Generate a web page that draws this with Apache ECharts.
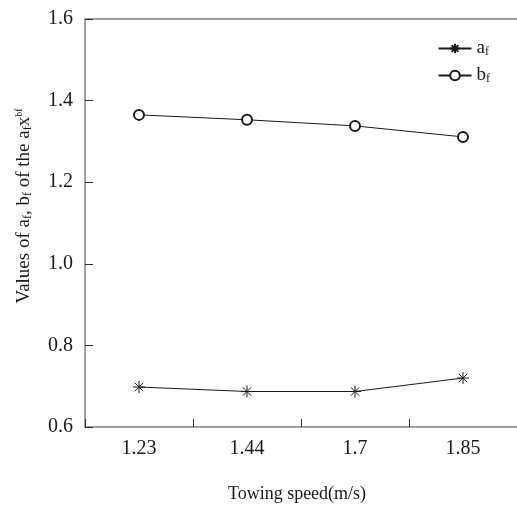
<!DOCTYPE html>
<html lang="en">
<head>
    <meta charset="UTF-8">
    <title>Towing speed</title>
    <script src="https://cdn.jsdelivr.net/npm/echarts@6/dist/echarts.min.js"></script>
    <style>
        html, body { margin: 0; padding: 0; background: #fff; }
        #main { width: 517px; height: 508px; }
    </style>
</head>
<body>
<div id="main"></div>
<script>
    var speeds = ['1.23', '1.44', '1.7', '1.85'];
    var afValues = [0.698, 0.687, 0.687, 0.720];
    var bfValues = [1.365, 1.353, 1.338, 1.311];
    var yTicks = [0.6, 0.8, 1.0, 1.2, 1.4, 1.6];

    var star = 'path://M0,-10 L0,10 M-10,0 L10,0 M-7,-7 L7,7 M-7,7 L7,-7';
    var font = 'Liberation Serif, Times New Roman, serif';
    var axisGrey = '#808080';
    var ink = '#1a1a1a';

    var chart = echarts.init(document.getElementById('main'));
    var options = {
        animation: false,
        textStyle: { fontFamily: font, color: ink },
        grid: { left: 85, top: 19, width: 437, height: 413 },
        legend: {
            orient: 'vertical',
            right: 22,
            top: 34,
            itemWidth: 33,
            itemHeight: 12,
            itemGap: 8,
            textStyle: {
                fontFamily: font, fontSize: 19, color: ink,
                rich: {
                    n: { fontFamily: font, fontSize: 19, color: ink, lineHeight: 18 },
                    s: { fontFamily: font, fontSize: 12, color: ink, lineHeight: 18, padding: [6, 0, 0, 0] }
                }
            },
            formatter: function (name) {
                return name === 'af' ? '{n|a}{s|f}' : '{n|b}{s|f}';
            },
            data: ['af', 'bf']
        },
        xAxis: [{
            type: 'category',
            data: speeds,
            boundaryGap: true,
            name: 'Towing speed(m/s)',
            nameLocation: 'middle',
            nameGap: 58,
            nameTextStyle: { fontFamily: font, fontSize: 18, color: ink, padding: [0, 8, 0, 0] },
            axisLine: { show: true, lineStyle: { color: axisGrey, width: 1.5 } },
            axisTick: { show: true, inside: true, length: 8, lineStyle: { color: '#333', width: 1 } },
            axisLabel: { fontFamily: font, fontSize: 20, color: ink, margin: 12 },
            splitLine: { show: false }
        }, {
            type: 'category',
            data: speeds,
            position: 'top',
            axisLine: { show: true, lineStyle: { color: axisGrey, width: 1.5 } },
            axisTick: { show: false },
            axisLabel: { show: false },
            splitLine: { show: false }
        }],
        yAxis: {
            type: 'value',
            min: yTicks[0],
            max: yTicks[yTicks.length - 1],
            interval: 0.2,
            name: '{n|Values of a}{s|f}{n|, b}{s|f}{n| of the a}{s|f}{n|x}{p|bf}',
            nameLocation: 'middle',
            nameGap: 50,
            nameRotate: 90,
            nameTextStyle: {
                fontFamily: font, fontSize: 19, color: ink, padding: [0, 0, 0, 34],
                rich: {
                    n: { fontFamily: font, fontSize: 19, color: ink, lineHeight: 22 },
                    s: { fontFamily: font, fontSize: 12, color: ink, lineHeight: 22, padding: [7, 0, 0, 0] },
                    p: { fontFamily: font, fontSize: 10, color: ink, lineHeight: 22, padding: [0, 0, 10, 0] }
                }
            },
            axisLine: { show: true, lineStyle: { color: axisGrey, width: 1.5 } },
            axisTick: { show: true, inside: true, length: 8, lineStyle: { color: '#333', width: 1 } },
            axisLabel: {
                fontFamily: font, fontSize: 20, color: ink, margin: 12,
                formatter: function (v) { return v.toFixed(1); }
            },
            splitLine: { show: false }
        },
        series: [
            {
                name: 'af',
                type: 'line',
                data: afValues,
                symbol: star,
                symbolSize: 12,
                lineStyle: { color: ink, width: 1 },
                itemStyle: { color: ink, borderColor: ink, borderWidth: 1 }
            },
            {
                name: 'bf',
                type: 'line',
                data: bfValues,
                symbol: 'emptyCircle',
                symbolSize: 10,
                lineStyle: { color: ink, width: 1 },
                itemStyle: { color: ink, borderColor: ink, borderWidth: 1 }
            }
        ]
    };
    chart.setOption(options);
</script>
</body>
</html>
